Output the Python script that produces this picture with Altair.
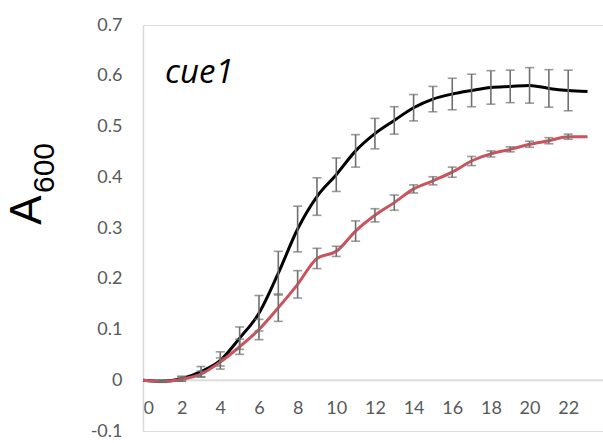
import altair as alt
import pandas as pd

hours = list(range(0, 24))
wt_mean = [0, -0.002, 0.003, 0.017, 0.039, 0.083, 0.132, 0.211, 0.298, 0.362, 0.405, 0.452,
           0.486, 0.512, 0.537, 0.554, 0.564, 0.571, 0.577, 0.579, 0.581, 0.575, 0.571, 0.569]
wt_err = [0, 0.002, 0.005, 0.010, 0.017, 0.022, 0.035, 0.043, 0.045, 0.037, 0.033, 0.032,
          0.030, 0.027, 0.026, 0.025, 0.031, 0.032, 0.033, 0.032, 0.035, 0.037, 0.040, 0]
mut_mean = [0, -0.002, 0.002, 0.012, 0.036, 0.066, 0.100, 0.143, 0.189, 0.240, 0.254, 0.294,
            0.325, 0.350, 0.377, 0.393, 0.410, 0.432, 0.446, 0.455, 0.465, 0.472, 0.480, 0.480]
mut_err = [0, 0.002, 0.004, 0.006, 0.008, 0.015, 0.020, 0.027, 0.027, 0.020, 0.010, 0.020,
           0.013, 0.015, 0.008, 0.008, 0.010, 0.009, 0.006, 0.005, 0.006, 0.006, 0.005, 0]
series_names = ["wt", "cue1"]
series_colors = ["#000000", "#c9545e"]
x_ticks = list(range(0, 23, 2))
y_ticks = [-0.1, 0, 0.1, 0.2, 0.3, 0.4, 0.5, 0.6, 0.7]

rows = []
for name, means, errs in [(series_names[0], wt_mean, wt_err), (series_names[1], mut_mean, mut_err)]:
    for h, m, e in zip(hours, means, errs):
        rows.append({"series": name, "hour": h, "mean": m, "lo": m - e, "hi": m + e, "err": e})
df = pd.DataFrame(rows)

xs = alt.Scale(domain=[0, 23.8], nice=False, zero=False)
ys = alt.Scale(domain=[-0.1, 0.7], nice=False)
color = alt.Color("series:N", scale=alt.Scale(domain=series_names, range=series_colors), legend=None)

x_axis = alt.Axis(values=x_ticks, title=None, grid=False, ticks=False, domainColor="#d9d9d9",
                  domainWidth=1.5, labelColor="#595959", labelFontSize=18, labelFont="Lato",
                  labelPadding=19, offset=-51, labelAngle=0)
y_axis = alt.Axis(values=y_ticks, title=None, grid=False, ticks=False, domainColor="#d9d9d9",
                  domainWidth=1.5, labelColor="#595959", labelFontSize=18, labelFont="Lato",
                  labelPadding=21,
                  labelExpr="datum.value == 0 ? '0' : replace(format(datum.value, '.1f'), '\u2212', '-')")

base = alt.Chart(df)

zero_line = alt.Chart(pd.DataFrame({"y": [0]})).mark_rule(color="#d9d9d9", strokeWidth=1.5).encode(
    y=alt.Y("y:Q", scale=ys, axis=y_axis)
)

lines = base.mark_line(interpolate="monotone", strokeWidth=3).encode(
    x=alt.X("hour:Q", scale=xs, axis=x_axis),
    y=alt.Y("mean:Q", scale=ys, axis=y_axis),
    color=color,
    order=alt.Order("hour:Q"),
)

bars = base.transform_filter("datum.err > 0").mark_errorbar(
    ticks=True, color="#6f6f6f", thickness=1.6, size=9
).encode(
    x=alt.X("hour:Q", scale=xs),
    y=alt.Y("lo:Q", scale=ys, title=None),
    y2="hi:Q",
    detail="series:N",
)

label_cue = alt.Chart(pd.DataFrame({"t": ["cue1"]})).mark_text(
    align="left", baseline="alphabetic", fontSize=33, fontStyle="italic", font="Open Sans",
    color="#000000"
).encode(text="t:N", x=alt.value(22), y=alt.value(58))

title_a = alt.Chart(pd.DataFrame({"t": ["A"]})).mark_text(
    align="center", baseline="middle", fontSize=44, angle=270, font="Liberation Sans",
    color="#000000"
).encode(text="t:N", x=alt.value(-115), y=alt.value(185))

title_sub = alt.Chart(pd.DataFrame({"t": ["600"]})).mark_text(
    align="center", baseline="middle", fontSize=30, angle=270, font="Liberation Sans",
    color="#000000"
).encode(text="t:N", x=alt.value(-98), y=alt.value(143))

chart = alt.layer(zero_line, lines, bars, label_cue, title_a, title_sub).properties(
    width=460, height=406,
    padding={"left": 143, "top": 25, "right": 0, "bottom": 12},
    autosize=alt.AutoSizeParams(type="none"),
).configure_view(stroke=None).configure(background="white")

chart.save("out.html", embed_options={"renderer": "svg", "actions": False})
